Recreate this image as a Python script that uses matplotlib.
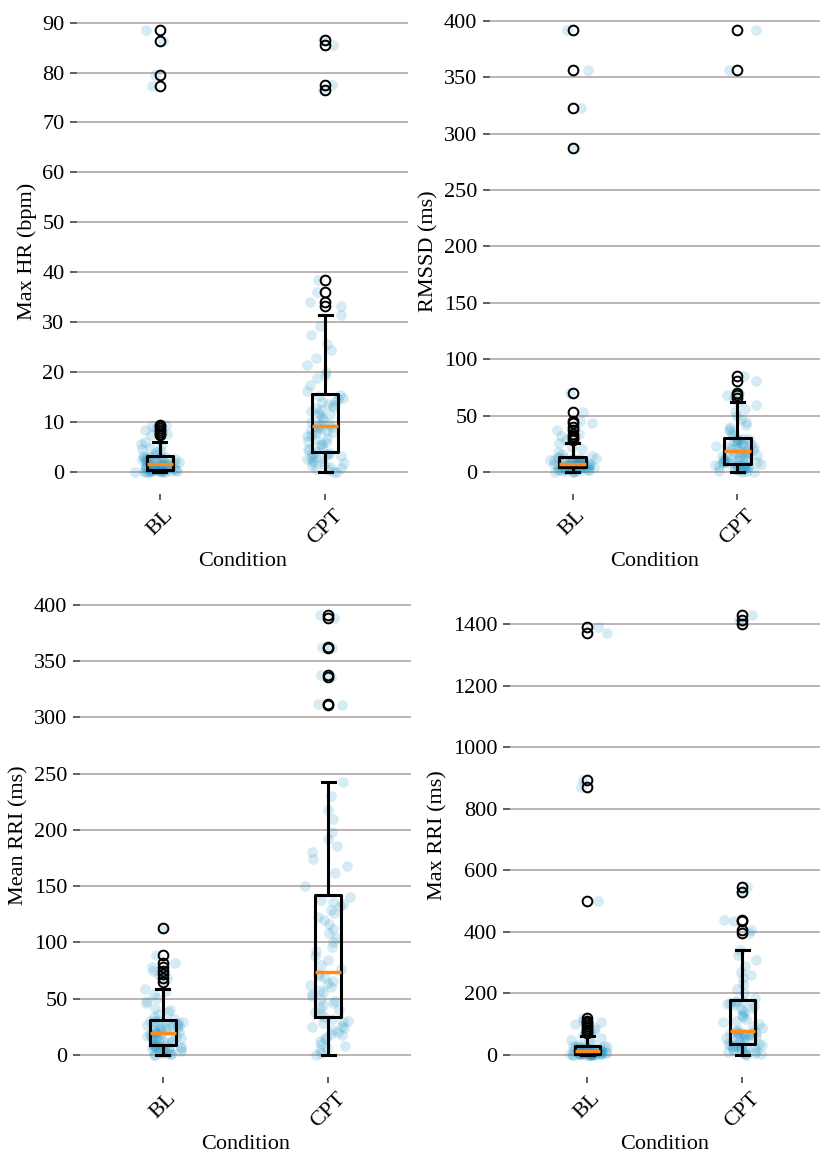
import numpy as np
import matplotlib
matplotlib.use('Agg')
from matplotlib import pyplot as plt
from matplotlib.ticker import MultipleLocator

plt.rcParams['font.family'] = ['Liberation Serif', 'DejaVu Serif']
plt.rcParams['font.size'] = 16

conditions = ['BL', 'CPT']

# Max HR (bpm)
hr_bl = [0, 0, 0, 0, 0, 0, 0.1, 0.1, 0.1, 0.1, 0.2, 0.2, 0.2, 0.2, 0.3, 0.3, 0.3, 0.3, 0.4, 0.4,
         0.5, 0.5, 0.6, 0.7, 0.7, 0.8, 0.9, 0.9, 1.0, 1.0, 1.1, 1.2, 1.2, 1.3, 1.3, 1.4, 1.4, 1.5, 1.5, 1.6,
         1.7, 1.7, 1.8, 1.9, 1.9, 2.0, 2.1, 2.2, 2.2, 2.3, 2.4, 2.5, 2.5, 2.6, 2.7, 2.8, 2.9, 2.9, 3.0, 3.1,
         3.3, 3.6, 3.9, 4.2, 4.5, 4.8, 5.1, 5.5, 5.9, 7.3, 7.6, 8.0, 8.4, 8.8, 9.2, 9.4, 77.3, 79.5, 86.3, 88.5]
hr_cpt = [0, 0, 0.3, 0.5, 0.8, 1.0, 1.2, 1.5, 1.7, 2.0, 2.2, 2.4, 2.6, 2.8, 3.0, 3.2, 3.3, 3.5, 3.6, 3.8,
          4.0, 4.3, 4.6, 5.0, 5.3, 5.6, 5.9, 6.2, 6.5, 6.8, 7.1, 7.4, 7.7, 7.9, 8.1, 8.3, 8.5, 8.7, 8.9, 9.0,
          9.3, 9.6, 10.0, 10.4, 10.8, 11.2, 11.5, 11.9, 12.2, 12.5, 12.8, 13.1, 13.4, 13.7, 14.0, 14.3, 14.6, 14.9, 15.2, 15.4,
          16.2, 17.5, 18.8, 19.4, 20.0, 21.4, 22.8, 24.5, 25.6, 27.5, 29.2, 31.4, 33.3, 34.0, 36.0, 38.5, 76.5, 77.5, 85.5, 86.5]

# RMSSD (ms)
rmssd_bl = [0, 0, 0, 0.5, 0.8, 1.0, 1.3, 1.6, 1.9, 2.1, 2.4, 2.6, 2.8, 3.0, 3.2, 3.4, 3.5, 3.7, 3.8, 4.0,
            4.2, 4.4, 4.6, 4.8, 5.0, 5.2, 5.4, 5.6, 5.8, 5.9, 6.1, 6.2, 6.3, 6.5, 6.6, 6.7, 6.8, 6.9, 7.0, 7.0,
            7.3, 7.6, 7.9, 8.2, 8.5, 8.8, 9.1, 9.4, 9.7, 10.0, 10.3, 10.6, 10.9, 11.2, 11.5, 11.8, 12.1, 12.4, 12.7, 13.0,
            14.5, 16, 18, 20, 22.5, 26, 28, 30, 32, 34, 37, 40, 43, 45, 53, 70, 287, 323, 357, 392]
rmssd_cpt = [0, 0, 0.5, 1, 1.5, 2, 2.5, 3, 3.5, 4, 4.3, 4.6, 5, 5.3, 5.6, 5.9, 6.2, 6.5, 6.8, 7.0,
             7.5, 8, 8.5, 9, 9.5, 10, 10.5, 11, 11.5, 12, 12.5, 13, 13.5, 14, 14.5, 15, 15.8, 16.5, 17.2, 18,
             18.6, 19.2, 19.8, 20.4, 21, 21.6, 22.2, 22.8, 23.4, 24, 24.6, 25.2, 25.8, 26.4, 27, 27.6, 28.2, 28.8, 29.4, 30,
             32, 34, 36, 38, 40, 42, 44, 47, 50, 53, 56, 59, 62, 66, 68, 70, 81, 85, 357, 392]

# Mean RRI (ms)
mrri_bl = [0, 0, 0.5, 1, 1.5, 2, 2.5, 3, 3.5, 4, 4.5, 5, 5.5, 6, 6.5, 7, 7.4, 7.7, 8.0, 8.3,
           8.9, 9.5, 10.1, 10.7, 11.3, 11.9, 12.5, 13.1, 13.7, 14.3, 14.9, 15.5, 16.1, 16.7, 17.3, 17.9, 18.5, 18.9, 19.2, 19.5,
           20, 20.6, 21.2, 21.8, 22.4, 23, 23.6, 24.2, 24.8, 25.4, 26, 26.6, 27.2, 27.8, 28.4, 29, 29.5, 29.9, 30.2, 30.5,
           32, 34, 36, 38, 40, 42, 46, 48, 51, 54, 56.5, 58.6, 65, 68, 72, 75, 78, 82, 89, 113]
mrri_cpt = [0, 2, 4, 6, 8, 10, 12, 14, 16, 18, 19, 20, 22, 24, 25, 26, 28, 29, 30, 32,
            34, 36, 38, 40, 42, 44, 46, 48, 50, 52, 54, 56, 58, 60, 62, 64, 66, 68, 70, 72,
            76, 80, 84, 88, 92, 96, 100, 104, 108, 112, 116, 120, 123, 126, 129, 132, 134, 136, 138, 140,
            150, 162, 168, 174, 180, 186, 192, 198, 210, 218, 230, 243, 311, 312, 336, 338, 362, 363, 388, 391]

# Max RRI (ms)
xrri_bl = [0, 0, 0, 0.5, 0.8, 1, 1.3, 1.6, 1.9, 2.1, 2.3, 2.5, 2.7, 2.9, 3.1, 3.3, 3.5, 3.7, 3.9, 4.0,
           4.4, 4.8, 5.2, 5.6, 6, 6.4, 6.8, 7.2, 7.6, 8, 8.4, 8.8, 9.2, 9.5, 9.8, 10.1, 10.4, 10.6, 10.8, 11.0,
           12, 13, 14, 15, 16, 17, 18, 19, 20, 21, 22, 23, 24, 25, 25.8, 26.5, 27.2, 27.8, 28.3, 28.7,
           33, 38, 44, 50, 56, 61, 70, 76, 82, 88, 94, 100, 106, 112, 119, 500, 870, 893, 1370, 1390]
xrri_cpt = [0, 2, 4, 6, 8, 10, 12, 14, 16, 18, 20, 22, 24, 26, 27, 28, 30, 31, 32, 34,
            37, 40, 43, 46, 49, 52, 55, 57, 59, 61, 63, 65, 67, 69, 71, 72, 73, 74, 76, 77,
            82, 88, 94, 100, 106, 112, 118, 124, 130, 136, 142, 148, 154, 158, 162, 166, 169, 171, 173, 175,
            185, 200, 215, 230, 250, 260, 270, 290, 310, 325, 340, 395, 405, 435, 440, 530, 545, 1400, 1415, 1430]

panels = [
    ('Max HR (bpm)', hr_bl, hr_cpt, 10),
    ('RMSSD (ms)', rmssd_bl, rmssd_cpt, 50),
    ('Mean RRI (ms)', mrri_bl, mrri_cpt, 50),
    ('Max RRI (ms)', xrri_bl, xrri_cpt, 200),
]

W, H = 829, 1155
# (left, right, top, bottom) in pixels
boxes_px = [(77, 408, 8, 494), (490, 820, 8, 494), (80, 411, 593, 1077), (510, 820, 593, 1077)]

fig = plt.figure(figsize=(W / 100, H / 100), dpi=100)

point_color = '#1e94c4'
grid_color = '#b8adad'


def jitter(n, seed):
    # deterministic scatter of the dots around the box centre (hash of the index)
    k = np.arange(n) + seed
    a = (np.sin(k * 12.9898) * 43758.5453) % 1
    b = (np.sin(k * 78.233) * 24634.6345) % 1
    return (a + b - 1) * 0.15


for p, ((ylabel, bl, cpt, step), (l, r, t, b)) in enumerate(zip(panels, boxes_px)):
    ax = fig.add_axes([l / W, 1 - b / H, (r - l) / W, (b - t) / H])
    groups = [np.array(bl), np.array(cpt)]
    for i, vals in enumerate(groups):
        ax.scatter(i + 1 + jitter(len(vals), 100 * p + 37 * i), vals, s=60, color=point_color,
                   alpha=0.18, linewidths=0, zorder=2)
    ax.boxplot(groups, positions=[1, 2], widths=0.16, manage_ticks=False,
               boxprops=dict(color='black', lw=2.2),
               whiskerprops=dict(color='black', lw=2.2),
               capprops=dict(color='black', lw=2.2),
               medianprops=dict(color='#ff8c1a', lw=2.5),
               flierprops=dict(marker='o', mfc='none', mec='black', ms=7, mew=1.4),
               zorder=3)
    ax.set_xlim(0.5, 2.5)
    ax.yaxis.set_major_locator(MultipleLocator(step))
    ax.set_xticks([1, 2], conditions, rotation=45)
    ax.set_xlabel('Condition', labelpad=2)
    ax.set_ylabel(ylabel)
    ax.yaxis.grid(True, color=grid_color, lw=1.3)
    ax.set_axisbelow(True)
    for sp in ax.spines.values():
        sp.set_visible(False)
    ax.tick_params(axis='y', length=5, width=1.2, color='#444444', pad=4)
    ax.tick_params(axis='x', length=4, width=1.2, color='#444444', pad=5)

fig.savefig('out.png', dpi=100)
